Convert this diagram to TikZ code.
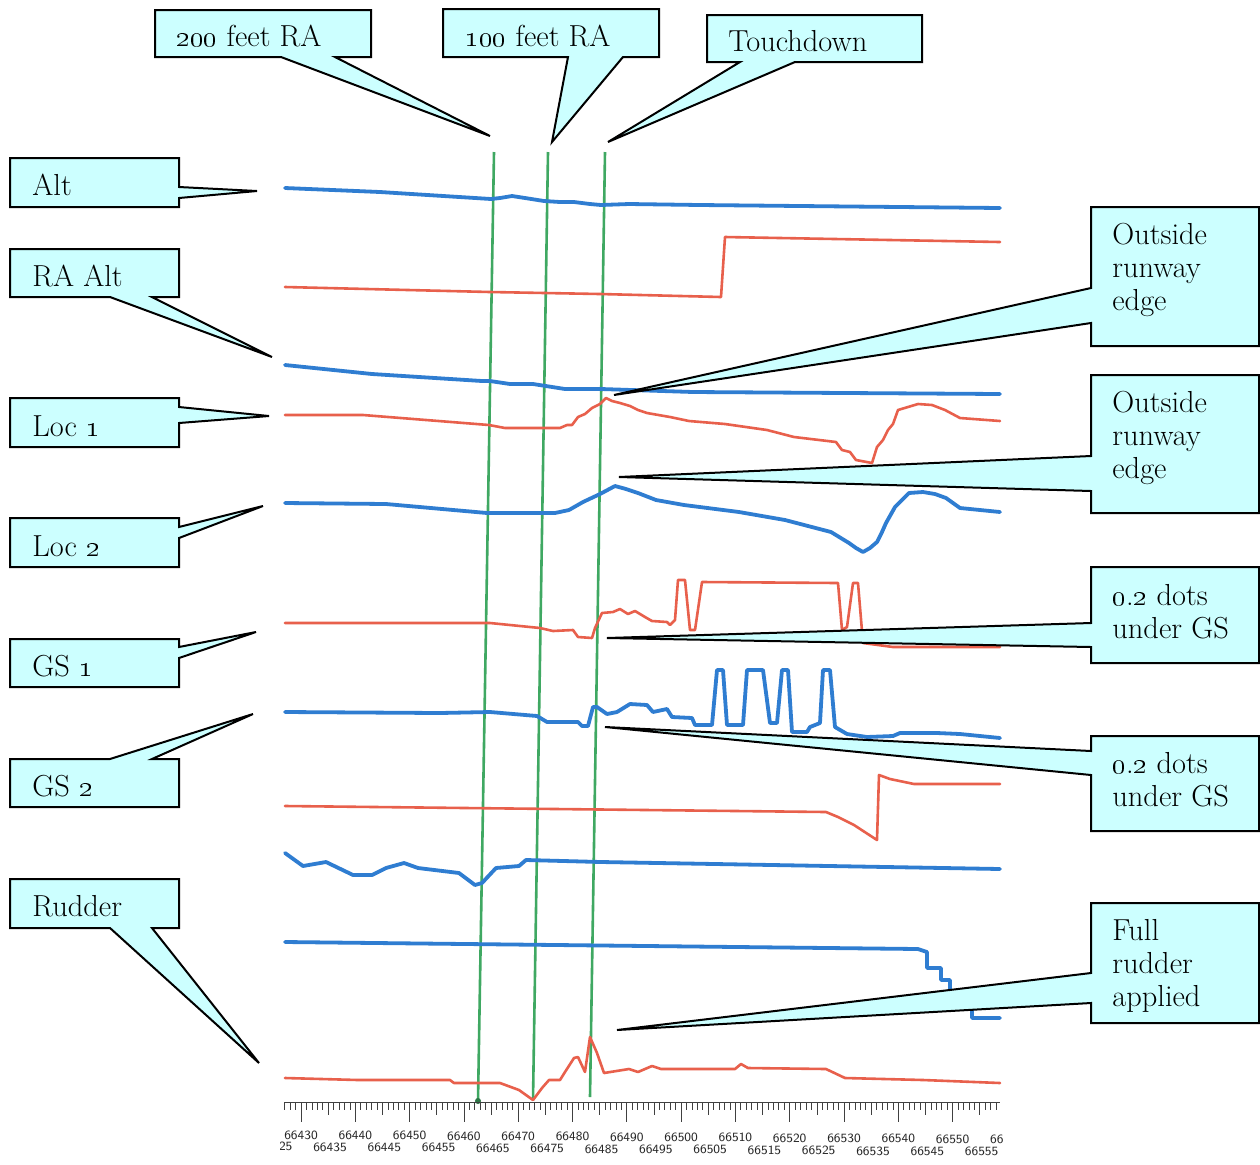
\documentclass[tikz,border=0pt]{standalone}
\usepackage{xcolor}
\definecolor{cfill}{HTML}{CCFFFF}
\definecolor{tblue}{HTML}{2F7DD1}
\definecolor{tred}{HTML}{E8604C}
\definecolor{tgreen}{HTML}{3FA862}
\newcommand\lblfont{\fontsize{15.2}{16.5}\selectfont}
\begin{document}
\begin{tikzpicture}[x=0.5pt,y=-0.5pt,
  callout/.style={fill=cfill,draw=black,line width=1pt,line join=miter},
  lbl/.style={font=\lblfont,inner sep=0pt,text=black},
  mlbl/.style={font=\lblfont,inner sep=0pt,align=left,anchor=north west,text=black},
  bluetrace/.style={draw=tblue,line width=1.9pt,line join=round,line cap=round},
  redtrace/.style={draw=tred,line width=1.3pt,line join=round,line cap=round},
  marker/.style={draw=tgreen,line width=1.3pt},
  tick/.style={draw=black!75,line width=0.35pt},
  axlab/.style={font=\sffamily\fontsize{6.3}{7}\selectfont,inner sep=0pt,text=black!85}]
\useasboundingbox (0,0) rectangle (1260,1164);
\fill[white] (0,0) rectangle (1260,1164);

% green marker lines
\coordinate (g1t) at (494,152); \coordinate (g1b) at (478,1101);
\coordinate (g2t) at (548,152); \coordinate (g2b) at (533,1100);
\coordinate (g3t) at (605,152); \coordinate (g3b) at (590,1097);
\draw[marker] (g1t) -- (g1b);
\draw[marker] (g2t) -- (g2b);
\draw[marker] (g3t) -- (g3b);
\fill[tgreen!70!black] (g1b) circle (3);

% Alt (blue)
\draw[bluetrace] (285,188) -- (380,192) -- (491,199) -- (500,198) -- (512,196) -- (525,198) -- (544,201) -- (560,202) -- (574,202) -- (590,204) -- (601,205) -- (629,204) -- (700,205) -- (1000,208);
% RA Alt (red)
\draw[redtrace] (285,287) -- (490,292) -- (600,294) -- (721,297) -- (725,237) -- (1000,242);
% blue 3
\draw[bluetrace] (285,365) -- (372,374) -- (482,381) -- (490,381) -- (510,384) -- (533,384) -- (565,389) -- (601,389) -- (693,392) -- (1000,394);
% Loc 1 (red)
\draw[redtrace] (285,415) -- (363,415) -- (489,425) -- (505,428) -- (560,428) -- (567,425) -- (572,425) -- (578,417) -- (585,414) -- (592,408) -- (600,404) -- (606,398) -- (612,401) -- (620,403) -- (630,406) -- (638,410) -- (647,413) -- (670,417) -- (689,421) -- (725,424) -- (767,430) -- (794,437) -- (836,442) -- (842,450) -- (850,452) -- (856,460) -- (872,463) -- (877,447) -- (883,440) -- (888,430) -- (893,424) -- (898,410) -- (918,404) -- (932,405) -- (945,410) -- (960,418) -- (1000,421);
% Loc 2 (blue)
\draw[bluetrace] (285,503) -- (386,504) -- (487,513) -- (555,513) -- (569,510) -- (583,502) -- (600,494) -- (615,486) -- (626,489) -- (638,493) -- (656,500) -- (684,505) -- (739,512) -- (785,520) -- (831,532) -- (849,543) -- (856,548) -- (863,552) -- (870,548) -- (877,542) -- (882,532) -- (886,523) -- (895,507) -- (909,493) -- (923,492) -- (935,494) -- (946,498) -- (960,508) -- (1000,512);
% GS 1 (red)
\draw[redtrace] (285,623) -- (440,623) -- (490,623) -- (540,628) -- (553,631) -- (573,630) -- (578,637) -- (592,638) -- (595,628) -- (602,613) -- (613,612) -- (620,609) -- (628,614) -- (635,611) -- (645,617) -- (652,621) -- (667,622) -- (670,625) -- (675,620) -- (678,580) -- (685,580) -- (690,630) -- (695,630) -- (702,582) -- (838,583) -- (842,630) -- (847,627) -- (853,583) -- (858,583) -- (863,643) -- (893,647) -- (1000,647);
% GS 2 (blue)
\draw[bluetrace] (285,712) -- (440,713) -- (490,712) -- (537,716) -- (547,722) -- (578,722) -- (582,726) -- (588,726) -- (593,707) -- (597,707) -- (607,714) -- (617,712) -- (630,704) -- (647,705) -- (653,712) -- (667,709) -- (672,717) -- (692,718) -- (695,725) -- (712,725) -- (717,670) -- (723,670) -- (727,725) -- (743,725) -- (747,670) -- (763,670) -- (770,723) -- (777,723) -- (782,670) -- (788,670) -- (792,732) -- (807,732) -- (810,727) -- (820,723) -- (823,670) -- (830,670) -- (835,727) -- (847,734) -- (867,737) -- (893,736) -- (900,733) -- (937,733) -- (960,734) -- (1000,738);
% red 8
\draw[redtrace] (285,806) -- (826,812) -- (838,817) -- (854,825) -- (877,840) -- (879,775) -- (890,779) -- (914,784) -- (1000,784);
% blue 9
\draw[bluetrace] (285,853) -- (303,866) -- (326,862) -- (353,875) -- (372,875) -- (386,868) -- (404,863) -- (418,868) -- (459,873) -- (475,885) -- (482,883) -- (496,868) -- (519,866) -- (526,860) -- (601,862) -- (1000,869);
% blue 10
\draw[bluetrace] (285,942) -- (918,949) -- (927,952) -- (927,968) -- (941,968) -- (941,980) -- (950,980) -- (950,992) -- (972,992) -- (972,1018) -- (1000,1018);
% Rudder (red)
\draw[redtrace] (285,1078) -- (358,1080) -- (450,1080) -- (454,1083) -- (500,1083) -- (519,1090) -- (533,1100) -- (542,1088) -- (549,1080) -- (560,1080) -- (565,1072) -- (574,1058) -- (578,1057) -- (585,1072) -- (590,1037) -- (597,1053) -- (604,1073) -- (629,1069) -- (638,1072) -- (652,1066) -- (661,1069) -- (735,1069) -- (741,1064) -- (748,1068) -- (826,1069) -- (845,1078) -- (923,1080) -- (1000,1083);

% time axis
\draw[tick] (285,1102) -- (1000,1102);
\foreach \k in {-3,...,128}{
  \pgfmathsetmacro\tx{301+5.43*\k}
  \pgfmathsetmacro\tl{ifthenelse(mod(\k,10)==0,20,ifthenelse(mod(\k,5)==0,13,8))}
  \draw[tick] (\tx,1102) -- ++(0,\tl);
}
\begin{scope}
\clip (280,1125) rectangle (1003,1164);
\foreach \i/\lab in {0/66430,1/66440,2/66450,3/66460,4/66470,5/66480,6/66490,7/66500,8/66510,9/66520,10/66530,11/66540,12/66550,13/66560}
  \node[axlab] (r1\i) at ({301+54.3*\i},{1135+0.35*\i}) {\lab};
\foreach \i/\lab in {-1/66425,0/66435,1/66445,2/66455,3/66465,4/66475,5/66485,6/66495,7/66505,8/66515,9/66525,10/66535,11/66545,12/66555}
  \node[axlab] (r2\i) at ({330+54.3*\i},{1147+0.4*\i}) {\lab};
\end{scope}

% callouts: top
\draw[callout] (155,10) -- (371,10) -- (371,57) -- (335,57) -- (490,136) -- (281,57) -- (155,57) -- cycle;
\node[lbl,anchor=base west] (c200) at (176,46) {\oldstylenums{200} feet RA};
\draw[callout] (443,9) -- (659,9) -- (659,57) -- (623,57) -- (552,142) -- (568,57) -- (443,57) -- cycle;
\node[lbl,anchor=base west] (c100) at (465,46) {\oldstylenums{100} feet RA};
\draw[callout] (707,15) -- (922,15) -- (922,62) -- (795,62) -- (608,142) -- (740,62) -- (707,62) -- cycle;
\node[lbl,anchor=base west] (ctd) at (728,51) {Touchdown};

% callouts: left
\draw[callout] (10,158) -- (179,158) -- (179,187) -- (257,191) -- (179,198) -- (179,207) -- (10,207) -- cycle;
\node[lbl,anchor=base west] (calt) at (32,195) {Alt};
\draw[callout] (10,249) -- (179,249) -- (179,297) -- (152,297) -- (272,357) -- (110,297) -- (10,297) -- cycle;
\node[lbl,anchor=base west] (cra) at (32,286) {RA Alt};
\draw[callout] (10,398) -- (179,398) -- (179,407) -- (269,416) -- (179,423) -- (179,447) -- (10,447) -- cycle;
\node[lbl,anchor=base west] (cloc1) at (32,436) {Loc \oldstylenums{1}};
\draw[callout] (10,518) -- (179,518) -- (179,527) -- (263,506) -- (179,538) -- (179,567) -- (10,567) -- cycle;
\node[lbl,anchor=base west] (cloc2) at (32,556) {Loc \oldstylenums{2}};
\draw[callout] (10,639) -- (179,639) -- (179,647) -- (256,632) -- (179,658) -- (179,687) -- (10,687) -- cycle;
\node[lbl,anchor=base west] (cgs1) at (32,676) {GS \oldstylenums{1}};
\draw[callout] (10,759) -- (110,759) -- (253,714) -- (152,759) -- (179,759) -- (179,807) -- (10,807) -- cycle;
\node[lbl,anchor=base west] (cgs2) at (32,796) {GS \oldstylenums{2}};
\draw[callout] (10,879) -- (179,879) -- (179,928) -- (152,928) -- (259,1063) -- (110,928) -- (10,928) -- cycle;
\node[lbl,anchor=base west] (crud) at (32,916) {Rudder};

% callouts: right
\draw[callout] (1091,207) -- (1259,207) -- (1259,346) -- (1091,346) -- (1091,323) -- (614,395) -- (1091,288) -- cycle;
\node[mlbl] (co1) at (1112,223) {Outside\\runway\\edge};
\draw[callout] (1091,375) -- (1259,375) -- (1259,513) -- (1091,513) -- (1091,491) -- (619,477) -- (1091,456) -- cycle;
\node[mlbl] (co2) at (1112,391) {Outside\\runway\\edge};
\draw[callout] (1091,567) -- (1259,567) -- (1259,663) -- (1091,663) -- (1091,647) -- (607,638) -- (1091,623) -- cycle;
\node[mlbl] (cd1) at (1112,584) {\oldstylenums{0}.\oldstylenums{2} dots\\under GS};
\draw[callout] (1091,736) -- (1259,736) -- (1259,831) -- (1091,831) -- (1091,775) -- (605,727) -- (1091,751) -- cycle;
\node[mlbl] (cd2) at (1112,752) {\oldstylenums{0}.\oldstylenums{2} dots\\under GS};
\draw[callout] (1091,903) -- (1259,903) -- (1259,1023) -- (1091,1023) -- (1091,1003) -- (617,1030) -- (1091,973) -- cycle;
\node[mlbl] (cfr) at (1112,919) {Full\\rudder\\applied};
\end{tikzpicture}
\end{document}
